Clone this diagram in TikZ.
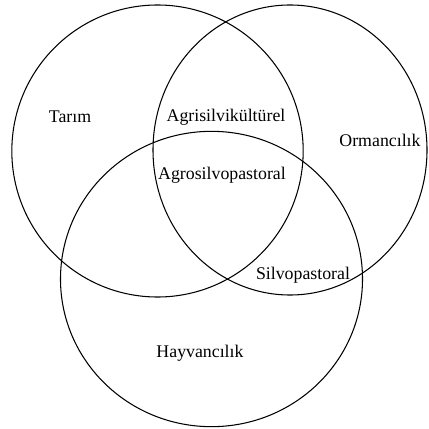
\documentclass[tikz,border=0pt]{standalone}
\usepackage{fontspec}
\setmainfont{Liberation Serif}
\usepackage{tikz}
\tikzstyle{set} = [draw=black, line width=0.9pt]
\tikzstyle{label} = [text centered, font=\fontsize{15.2}{18}\selectfont]

\begin{document}
\begin{tikzpicture}[x=0.03cm, y=-0.03cm]
		\useasboundingbox (0,0) rectangle (428,429);
		\clip (0,0) rectangle (428,429);
		
		\coordinate (Tarim) at (157.5,151);
		\coordinate (Orman) at (290,150);
		\coordinate (Hayvan) at (211.5,279);
		
		\draw [set] (Tarim) ellipse [x radius=4.37cm, y radius=4.38cm];
		\draw [set] (Orman) ellipse [x radius=4.11cm, y radius=4.35cm];
		\draw [set] (Hayvan) ellipse [x radius=4.53cm, y radius=4.43cm];
		
		\node (TarimText) [label] at (70,117) {Tarım};
		\node (AgriText) [label] at (226,117) {Agrisilvikültürel};
		\node (OrmanText) [label] at (380,140) {Ormancılık};
		\node (AgroText) [label] at (222,175) {Agrosilvopastoral};
		\node (SilvoText) [label] at (303,275) {Silvopastoral};
		\node (HayvanText) [label] at (200,353) {Hayvancılık};
	\end{tikzpicture}
\end{document}
